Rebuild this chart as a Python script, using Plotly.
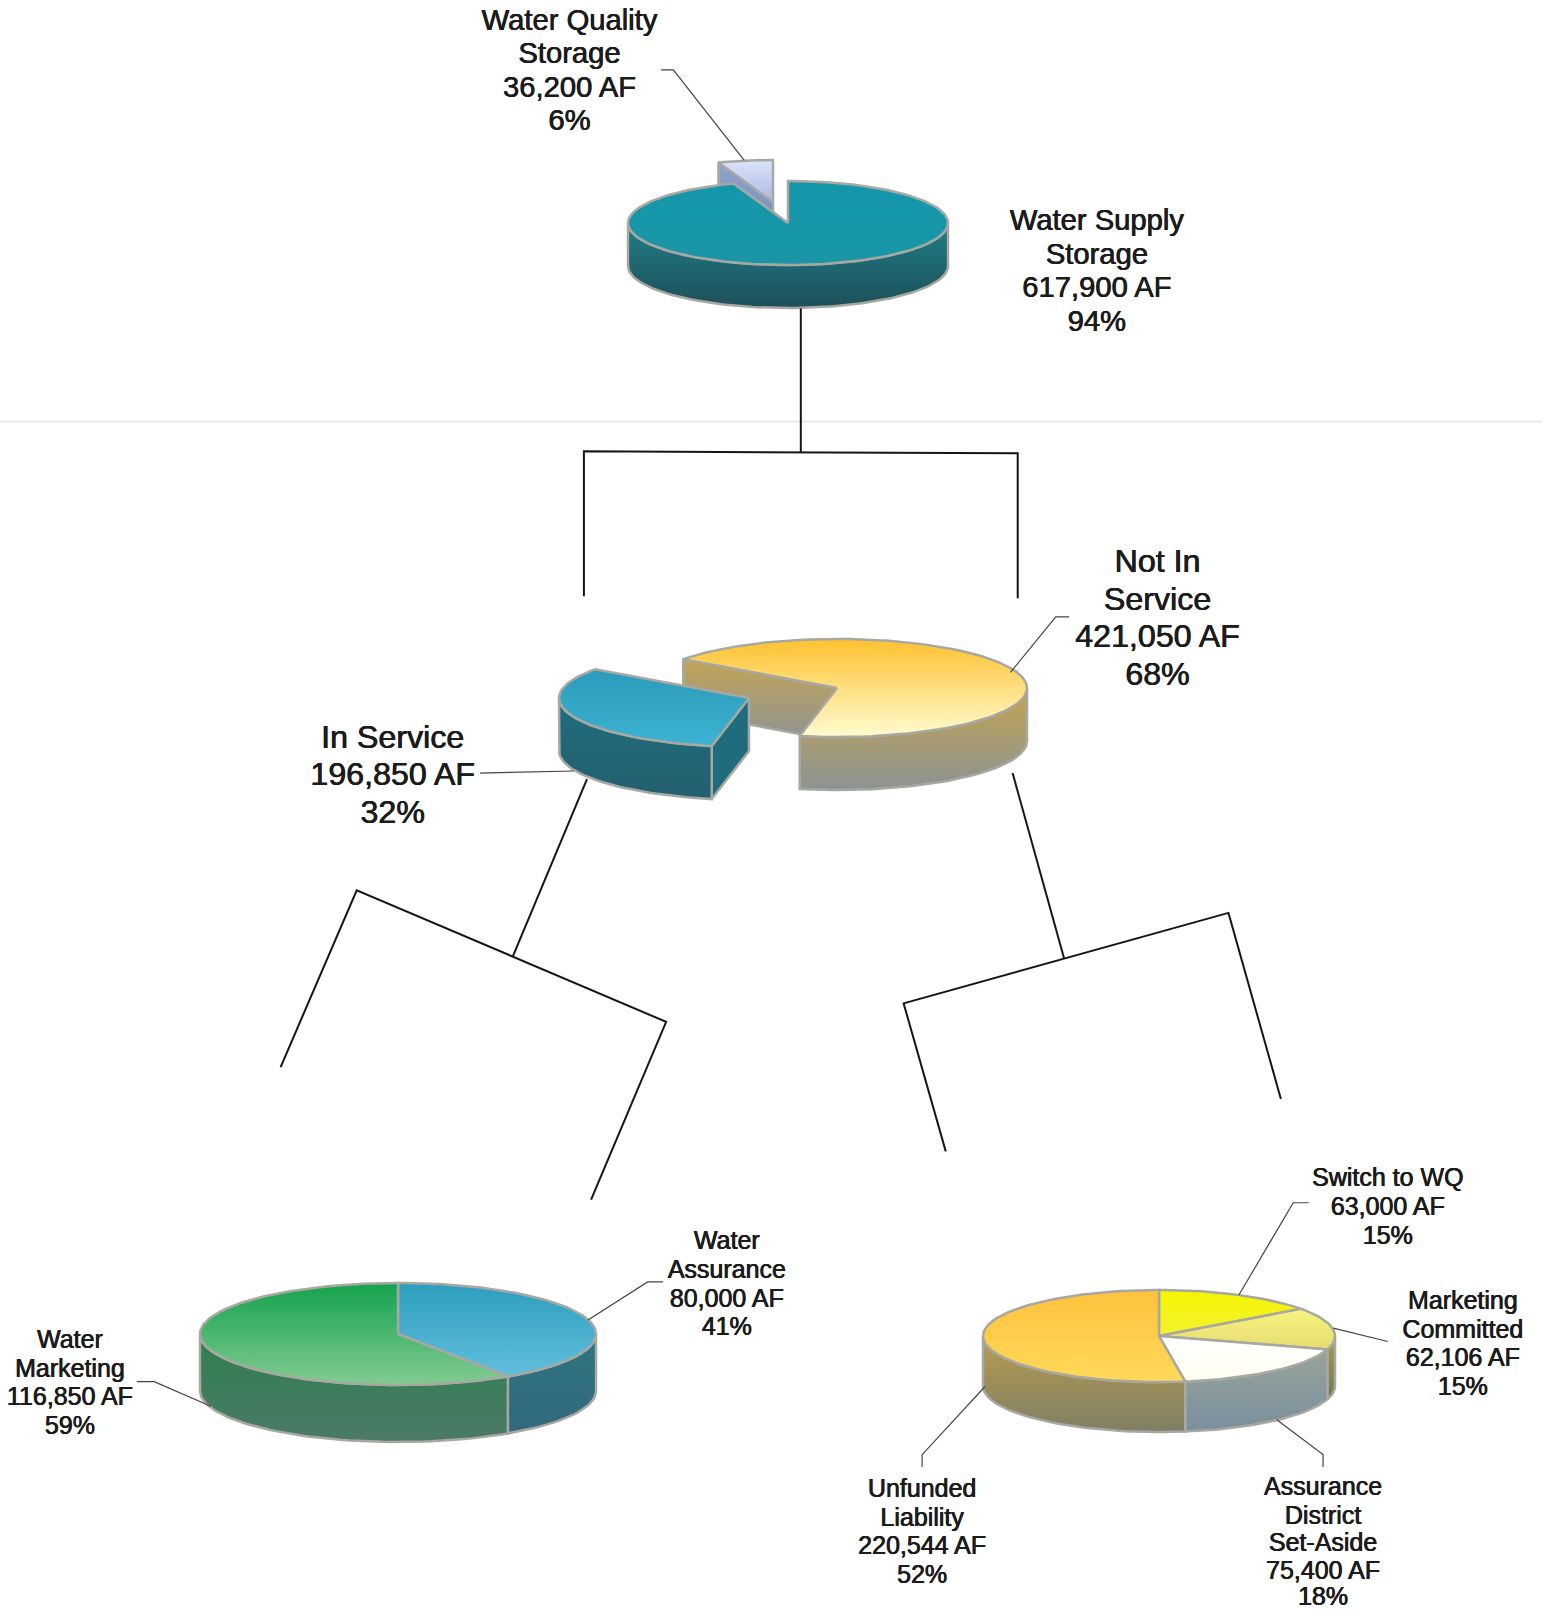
import math
import plotly.graph_objects as go

W, H = 1542, 1612
S = W / 1500

# ---------- data ----------
top_names = ["Water Supply Storage", "Water Quality Storage"]
top_values = [617900, 36200]
mid_names = ["Not In Service", "In Service"]
mid_values = [421050, 196850]
left_names = ["Water Assurance", "Water Marketing"]
left_values = [80000, 116850]
right_names = ["Switch to WQ", "Marketing Committed", "Assurance District Set-Aside", "Unfunded Liability"]
right_values = [63000, 62106, 75400, 220544]

# ---------- label text ----------
labels = [
    (["Water Quality", "Storage", "36,200 AF", "6%"], 554, [22, 54, 87, 119], 29.2),
    (["Water Supply", "Storage", "617,900 AF", "94%"], 1067, [217, 250, 282, 315], 29.2),
    (["Not In", "Service", "421,050 AF", "68%"], 1126, [549, 586, 622, 659], 32.2),
    (["In Service", "196,850 AF", "32%"], 382, [720, 756, 793], 32.2),
    (["Water", "Assurance", "80,000 AF", "41%"], 707, [1209, 1237, 1265, 1293], 25),
    (["Water", "Marketing", "116,850 AF", "59%"], 68, [1305, 1333, 1361, 1389], 25),
    (["Switch to WQ", "63,000 AF", "15%"], 1350, [1148, 1176, 1204], 25),
    (["Marketing", "Committed", "62,106 AF", "15%"], 1423, [1267, 1295, 1323, 1351], 25),
    (["Assurance", "District", "Set-Aside", "75,400 AF", "18%"], 1287, [1448, 1476, 1503, 1530, 1555], 25),
    (["Unfunded", "Liability", "220,544 AF", "52%"], 897, [1450, 1478, 1506, 1534], 25),
]

# ---------- connector lines (in 1500-wide units) ----------
tree_lines = [
    [(779, 300), (779, 440)],
    [(568, 580), (568, 439), (990, 441), (990, 582)],
    [(571, 758), (499, 930)],
    [(273, 1038), (347, 866), (648, 994), (575, 1167)],
    [(985, 752), (1035, 932)],
    [(920, 1120), (879, 976), (1195, 888), (1246, 1069)],
]
leader_lines = [
    [(643, 68), (655, 68), (724, 156)],
    [(467, 752), (558, 750)],
    [(1040, 600), (1027, 600), (983, 654)],
    [(645, 1247), (630, 1247), (572, 1284)],
    [(133, 1344), (150, 1344), (205, 1368)],
    [(1273, 1170), (1258, 1170), (1205, 1260)],
    [(1350, 1305), (1297, 1292)],
    [(1287, 1427), (1287, 1415), (1242, 1381)],
    [(897, 1427), (897, 1415), (958, 1349)],
]

EDGE = "#A8A8A2"
fig = go.Figure()


def grad(c0, c1):
    # the y axis runs downward, so the scale's first stop lands at the bottom
    return dict(type="vertical", colorscale=[[0, c1], [1, c0]])


def poly(pts, c0, c1, edge=EDGE, lw=2.5):
    xs = [p[0] for p in pts] + [pts[0][0]]
    ys = [p[1] for p in pts] + [pts[0][1]]
    fig.add_trace(go.Scatter(x=xs, y=ys, mode="lines", fill="toself",
                             fillgradient=grad(c0, c1),
                             line=dict(color=edge, width=lw),
                             hoverinfo="skip", showlegend=False))


def rim(cx, cy, rx, ry, a0, a1, dy=0):
    n = max(2, int(abs(a1 - a0) / 2) + 2)
    out = []
    for i in range(n):
        a = math.radians(a0 + (a1 - a0) * i / (n - 1))
        out.append((cx + rx * math.sin(a), cy - ry * math.cos(a) + dy))
    return out


def slices(values, start):
    total = sum(values)
    res, a = [], start
    for v in values:
        b = a + 360 * v / total
        res.append((a, b))
        a = b
    return res


def wall(cx, cy, rx, ry, d, a0, a1, c0, c1):
    lo, hi = max(a0, 90), min(a1, 270)
    if hi <= lo:
        return
    upper = rim(cx, cy, rx, ry, lo, hi)
    lower = rim(cx, cy, rx, ry, hi, lo, d)
    poly(upper + lower, c0, c1)


def face(cx, cy, rx, ry, d, a, c0, c1):
    p = rim(cx, cy, rx, ry, a, a)[0]
    poly([(cx, cy), p, (p[0], p[1] + d), (cx, cy + d)], c0, c1)


def top(cx, cy, rx, ry, a0, a1, c0, c1):
    poly([(cx, cy)] + rim(cx, cy, rx, ry, a0, a1), c0, c1)


# ----- top pie -----
(a_ws0, a_ws1), (a_wq0, a_wq1) = slices(top_values, 0)
cx, cy, rx, ry, d = 788, 223, 160, 42, 43
qx, qy = cx - 15, cy - 21
face(qx, qy, rx, ry, d, a_wq0, "#8FA3CE", "#6F87B8")
top(qx, qy, rx, ry, a_wq0, a_wq1, "#DCE4FA", "#A9B8E2")
wall(cx, cy, rx, ry, d, a_ws0, a_ws1, "#1F7E88", "#1E4F58")
top(cx, cy, rx, ry, a_ws0, a_ws1, "#1497AB", "#1A95A6")

# ----- middle pie -----
(a_ns0, a_ns1), (a_is0, a_is1) = slices(mid_values, 306)
a_ns0_n, a_ns1_n = a_ns0 - 360, a_ns1 - 360
a_is0_n, a_is1_n = a_is0 - 360, a_is1 - 360
cx, cy, rx, ry, d = 837, 688, 190, 49, 53
face(cx, cy, rx, ry, d, a_ns0_n, "#C2A455", "#8F9394")
wall(cx, cy, rx, ry, d, 0, a_ns1_n, "#C4A450", "#8C9394")
top(cx, cy, rx, ry, a_ns0_n, a_ns1_n, "#FFC12E", "#FFFBD0")
ix, iy = cx - 88, cy + 10
face(ix, iy, rx, ry, d, a_is0_n, "#1E6C7C", "#1E6C7C")
wall(ix, iy, rx, ry, d, a_is0_n, a_is1_n, "#1F6E7E", "#245F6E")
top(ix, iy, rx, ry, a_is0_n, a_is1_n, "#2B9BBB", "#3DB2D2")

# ----- left pie -----
(a0, a1), (b0, b1) = slices(left_values, 0)
cx, cy, rx, ry, d = 398, 1334, 198, 51, 57
wall(cx, cy, rx, ry, d, a0, a1, "#2E7580", "#33687E")
wall(cx, cy, rx, ry, d, b0, b1, "#2F7F4E", "#4B7A68")
top(cx, cy, rx, ry, a0, a1, "#2C9EBF", "#62BEDC")
top(cx, cy, rx, ry, b0, b1, "#14A24C", "#82CB92")

# ----- right pie -----
sl = slices(right_values, 0)
cx, cy, rx, ry, d = 1159, 1336, 176, 46, 50
wall(cx, cy, rx, ry, d, *sl[1], "#A6A24E", "#6F7455")
wall(cx, cy, rx, ry, d, *sl[2], "#98A39A", "#7A8F9E")
wall(cx, cy, rx, ry, d, *sl[3], "#B79D50", "#7F7E64")
top(cx, cy, rx, ry, *sl[0], "#F5F500", "#F4F030")
top(cx, cy, rx, ry, *sl[1], "#F8F480", "#E6DC70")
top(cx, cy, rx, ry, *sl[2], "#FFFFFF", "#FFFDF0")
top(cx, cy, rx, ry, *sl[3], "#FFC23C", "#FFD85A")


# ----- lines -----
def line(pts, color, w):
    fig.add_trace(go.Scatter(x=[p[0] * S for p in pts], y=[p[1] * S for p in pts],
                             mode="lines", line=dict(color=color, width=w),
                             hoverinfo="skip", showlegend=False))


line([(0, 410), (1500, 410)], "#E3EEEC", 2)
for pts in tree_lines:
    line(pts, "#151515", 2)
for pts in leader_lines:
    line(pts, "#444444", 1.2)

# ----- text -----
for lines_, xc, ys, size in labels:
    fig.add_trace(go.Scatter(x=[xc * S] * len(lines_), y=[y * S for y in ys],
                             mode="text", text=lines_, textposition="middle center",
                             textfont=dict(family="Liberation Sans", size=size, color="#1C1C1C",
                                           shadow="0.4px 0 0 #1C1C1C, -0.3px 0 0 #1C1C1C"),
                             hoverinfo="skip", showlegend=False, cliponaxis=False))

fig.update_layout(
    width=W, height=H, margin=dict(l=0, r=0, t=0, b=0),
    paper_bgcolor="white", plot_bgcolor="white", showlegend=False,
    xaxis=dict(range=[0, W], visible=False, fixedrange=True),
    yaxis=dict(range=[H, 0], visible=False, fixedrange=True),
)
fig.write_html("out.html", config={"displayModeBar": False},
               post_script="document.body.style.margin='0';document.body.style.overflow='hidden';")
